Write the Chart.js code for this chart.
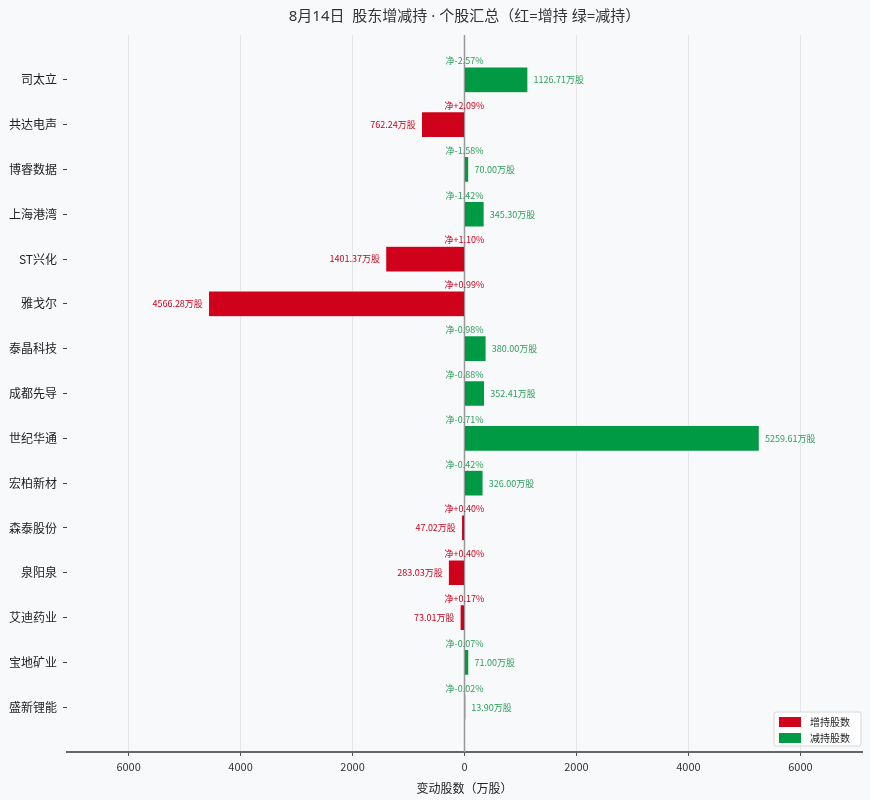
<!DOCTYPE html>
<html>
<head>
    <title>股东增减持</title>
    <script src="https://cdn.jsdelivr.net/npm/chart.js"></script>
    <style>
        body { margin: 0; background: #f7f9fb; }
        #wrap { width: 870px; height: 800px; position: relative; }
    </style>
</head>
<body>
    <div id="wrap"><canvas id="myChart"></canvas></div>

    <script>
        // data
        const stocks = ['司太立', '共达电声', '博睿数据', '上海港湾', 'ST兴化', '雅戈尔', '泰晶科技', '成都先导',
                        '世纪华通', '宏柏新材', '森泰股份', '泉阳泉', '艾迪药业', '宝地矿业', '盛新锂能'];
        const increaseShares = [null, 762.24, null, null, 1401.37, 4566.28, null, null, null, null, 47.02, 283.03, 73.01, null, null];
        const decreaseShares = [1126.71, null, 70.00, 345.30, null, null, 380.00, 352.41, 5259.61, 326.00, null, null, null, 71.00, 13.90];
        const netPct = [-2.57, 2.09, -1.58, -1.42, 1.10, 0.99, -0.98, -0.88, -0.71, -0.42, 0.40, 0.40, 0.17, -0.07, -0.02];
        const xTicks = [-6000, -4000, -2000, 0, 2000, 4000, 6000];

        const RED = '#d0021b';
        const GREEN = '#009a44';
        const FONT = '"Noto Sans CJK SC", "Noto Sans", sans-serif';
        const maxAbs = Math.max(...increaseShares.concat(decreaseShares).filter(v => v != null)) * 1.35;

        // increases drawn to the left, decreases to the right
        const incData = [];
        const decData = [];
        stocks.forEach((s, i) => {
            if (increaseShares[i] != null) incData.push({ x: -increaseShares[i], y: i });
            if (decreaseShares[i] != null) decData.push({ x: decreaseShares[i], y: i });
        });

        // title, zero line, bar labels and legend
        const decorations = {
            id: 'decorations',
            beforeDatasetsDraw(chart) {
                const { ctx, chartArea, scales } = chart;
                const x0 = scales.x.getPixelForValue(0);
                ctx.save();
                ctx.strokeStyle = '#999';
                ctx.lineWidth = 1.5;
                ctx.beginPath();
                ctx.moveTo(x0, chartArea.top);
                ctx.lineTo(x0, chartArea.bottom);
                ctx.stroke();
                ctx.restore();
            },
            afterDatasetsDraw(chart) {
                const { ctx, chartArea, scales } = chart;
                const x0 = scales.x.getPixelForValue(0);
                ctx.save();
                ctx.font = '9px ' + FONT;
                ctx.textBaseline = 'middle';
                stocks.forEach((s, i) => {
                    const y = scales.y.getPixelForValue(i);
                    const up = increaseShares[i] != null;
                    const col = up ? RED : '#2e9e5a';
                    ctx.fillStyle = col;
                    ctx.textAlign = 'center';
                    const p = netPct[i];
                    ctx.fillText('净' + (p > 0 ? '+' : '') + p.toFixed(2) + '%', x0, y - 19);
                    if (up) {
                        const xe = scales.x.getPixelForValue(-increaseShares[i]);
                        ctx.textAlign = 'right';
                        ctx.fillText(increaseShares[i].toFixed(2) + '万股', xe - 6, y);
                    } else {
                        const xe = scales.x.getPixelForValue(decreaseShares[i]);
                        ctx.textAlign = 'left';
                        ctx.fillText(decreaseShares[i].toFixed(2) + '万股', xe + 6, y);
                    }
                });

                // title (Latin font first so the middle dot stays narrow)
                ctx.fillStyle = '#333';
                ctx.textAlign = 'center';
                ctx.font = '15px "Noto Sans", "Noto Sans CJK SC", sans-serif';
                ctx.fillText('8月14日  股东增减持 · 个股汇总（红=增持 绿=减持）', (chartArea.left + chartArea.right) / 2, 17);

                // legend box
                const lx = chartArea.right - 88, ly = chartArea.bottom - 40;
                ctx.fillStyle = 'rgba(255,255,255,0.85)';
                ctx.strokeStyle = '#d6d6d6';
                ctx.lineWidth = 1;
                ctx.beginPath();
                ctx.roundRect(lx, ly, 87, 34, 2);
                ctx.fill();
                ctx.stroke();
                ctx.font = '10px ' + FONT;
                ctx.textAlign = 'left';
                [['增持股数', RED], ['减持股数', GREEN]].forEach((it, k) => {
                    ctx.fillStyle = it[1];
                    ctx.fillRect(lx + 5, ly + 5 + k * 16, 22, 10);
                    ctx.fillStyle = '#222';
                    ctx.fillText(it[0], lx + 36, ly + 10 + k * 16);
                });
                ctx.restore();
            }
        };

        const ctx = document.getElementById('myChart').getContext('2d');
        const myChart = new Chart(ctx, {
            type: 'bar',
            data: {
                datasets: [{
                    label: '增持股数',
                    data: incData,
                    backgroundColor: RED,
                    borderColor: 'rgba(255,255,255,0.6)',
                    borderWidth: 0.5,
                    barThickness: 25,
                    grouped: false
                }, {
                    label: '减持股数',
                    data: decData,
                    backgroundColor: GREEN,
                    borderColor: 'rgba(255,255,255,0.6)',
                    borderWidth: 0.5,
                    barThickness: 25,
                    grouped: false
                }]
            },
            options: {
                indexAxis: 'y',
                responsive: true,
                maintainAspectRatio: false,
                animation: false,
                layout: { padding: { top: 35, right: 8 } },
                plugins: {
                    legend: { display: false },
                    tooltip: { enabled: false }
                },
                scales: {
                    x: {
                        type: 'linear',
                        min: -maxAbs,
                        max: maxAbs,
                        afterBuildTicks: axis => { axis.ticks = xTicks.map(v => ({ value: v })); },
                        ticks: {
                            callback: v => Math.abs(v),
                            color: '#333',
                            font: { family: FONT, size: 11 },
                            padding: 4
                        },
                        grid: { color: '#e4e6ea', lineWidth: 1, tickLength: 4, tickColor: '#555' },
                        border: { display: true, color: '#666', width: 2 },
                        title: {
                            display: true,
                            text: '变动股数（万股）',
                            color: '#222',
                            font: { family: FONT, size: 12 },
                            padding: { top: 0 }
                        },
                        afterFit: axis => { axis.height = 48; }
                    },
                    y: {
                        type: 'linear',
                        reverse: true,
                        offset: false,
                        min: -1,
                        max: 15,
                        afterBuildTicks: axis => { axis.ticks = stocks.map((s, i) => ({ value: i })); },
                        ticks: {
                            callback: v => stocks[v],
                            color: '#222',
                            font: { family: FONT, size: 12 },
                            padding: 6
                        },
                        grid: { offset: false, drawOnChartArea: false, tickLength: 4, tickColor: '#444' },
                        border: { display: false },
                        afterFit: axis => { axis.width = 67; }
                    }
                }
            },
            plugins: [decorations]
        });
    </script>
</body>
</html>
